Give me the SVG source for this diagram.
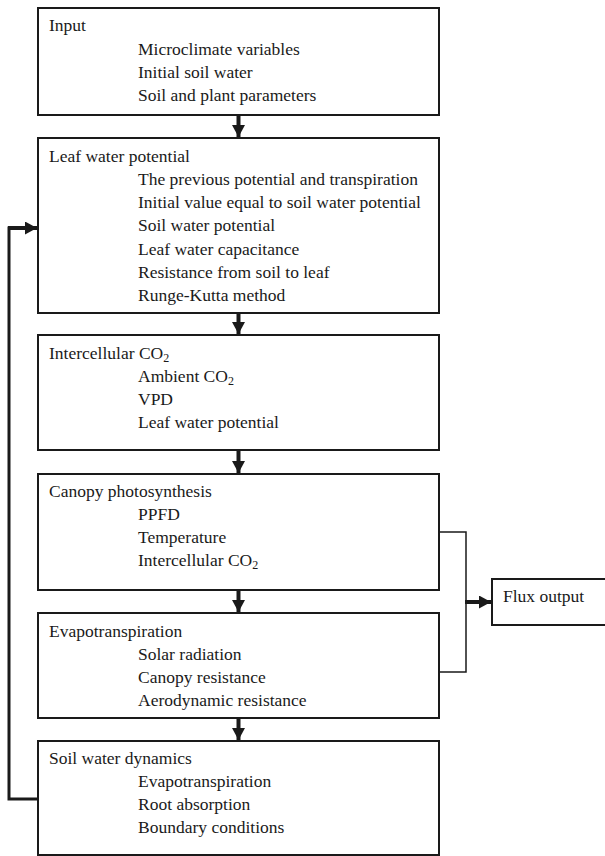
<svg xmlns="http://www.w3.org/2000/svg" width="605" height="856" viewBox="0 0 605 856">
<style>
.box{fill:#fff;stroke:#1a1a1a;stroke-width:2}
.t{font-family:"Liberation Serif","Times New Roman",serif;font-size:17.5px;fill:#1a1a1a}
.sub{font-size:12px}
.thick{stroke:#1a1a1a;stroke-width:4;fill:none}
.loop{stroke:#1a1a1a;stroke-width:3;fill:none}
.thin{stroke:#1a1a1a;stroke-width:1.5;fill:none}
</style>
<defs>
<marker id="ah" markerUnits="userSpaceOnUse" markerWidth="12" markerHeight="13" refX="12" refY="6.5" orient="auto">
<path d="M0,0 L12,6.5 L0,13 z" fill="#1a1a1a"/>
</marker>
</defs>
<g id="connectors">
<line class="thick" x1="238.5" y1="115" x2="238.5" y2="137" marker-end="url(#ah)"/>
<line class="thick" x1="238.5" y1="313" x2="238.5" y2="334" marker-end="url(#ah)"/>
<line class="thick" x1="238.5" y1="450" x2="238.5" y2="473" marker-end="url(#ah)"/>
<line class="thick" x1="238.5" y1="590" x2="238.5" y2="612" marker-end="url(#ah)"/>
<line class="thick" x1="238.5" y1="718" x2="238.5" y2="740" marker-end="url(#ah)"/>
<polyline class="loop" points="38,799 9,799 9,228 20,228"/>
<line class="thick" x1="8" y1="228" x2="37" y2="228" marker-end="url(#ah)"/>
<polyline class="thin" points="440,532 466,532 466,672 440,672"/>
<line class="thick" x1="465" y1="602" x2="491" y2="602" marker-end="url(#ah)"/>
</g>
<g id="input">
<rect class="box" x="38" y="8" width="401" height="107"/>
<text class="t" x="49" y="31">Input</text>
<text class="t" x="138" y="55">Microclimate variables</text>
<text class="t" x="138" y="78">Initial soil water</text>
<text class="t" x="138" y="101">Soil and plant parameters</text>
</g>
<g id="leaf-water-potential">
<rect class="box" x="38" y="138" width="401" height="175"/>
<text class="t" x="49" y="162">Leaf water potential</text>
<text class="t" x="138" y="185">The previous potential and transpiration</text>
<text class="t" x="138" y="208">Initial value equal to soil water potential</text>
<text class="t" x="138" y="231">Soil water potential</text>
<text class="t" x="138" y="255">Leaf water capacitance</text>
<text class="t" x="138" y="278">Resistance from soil to leaf</text>
<text class="t" x="138" y="301">Runge-Kutta method</text>
</g>
<g id="intercellular-co2">
<rect class="box" x="38" y="335" width="401" height="115"/>
<text class="t" x="49" y="359">Intercellular CO<tspan class="sub" dy="3">2</tspan></text>
<text class="t" x="138" y="382">Ambient CO<tspan class="sub" dy="3">2</tspan></text>
<text class="t" x="138" y="405">VPD</text>
<text class="t" x="138" y="428">Leaf water potential</text>
</g>
<g id="canopy-photosynthesis">
<rect class="box" x="38" y="474" width="401" height="116"/>
<text class="t" x="49" y="497">Canopy photosynthesis</text>
<text class="t" x="138" y="520">PPFD</text>
<text class="t" x="138" y="543">Temperature</text>
<text class="t" x="138" y="566">Intercellular CO<tspan class="sub" dy="3">2</tspan></text>
</g>
<g id="evapotranspiration">
<rect class="box" x="38" y="613" width="401" height="105"/>
<text class="t" x="49" y="637">Evapotranspiration</text>
<text class="t" x="138" y="660">Solar radiation</text>
<text class="t" x="138" y="683">Canopy resistance</text>
<text class="t" x="138" y="706">Aerodynamic resistance</text>
</g>
<g id="soil-water-dynamics">
<rect class="box" x="38" y="741" width="401" height="114"/>
<text class="t" x="49" y="764">Soil water dynamics</text>
<text class="t" x="138" y="787">Evapotranspiration</text>
<text class="t" x="138" y="810">Root absorption</text>
<text class="t" x="138" y="833">Boundary conditions</text>
</g>
<g id="flux-output">
<rect class="box" x="492" y="579" width="114" height="46"/>
<text class="t" x="503" y="602">Flux output</text>
</g>
</svg>
